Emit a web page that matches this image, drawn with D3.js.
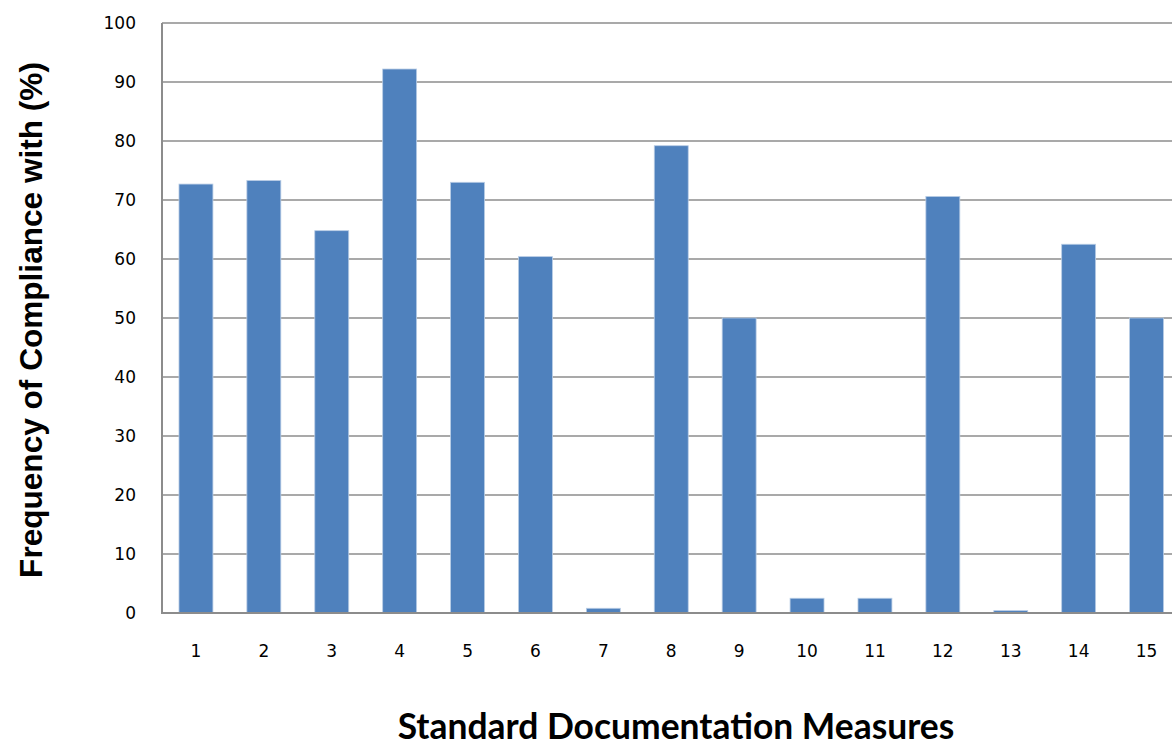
<!DOCTYPE html>
<html>
<head>
<meta charset="utf-8">
<script src="https://cdn.jsdelivr.net/npm/d3@7"></script>
<style>
  html, body { margin: 0; padding: 0; background: #ffffff; }
  svg { display: block; }
</style>
</head>
<body>
<svg id="chart" width="1172" height="745"></svg>
<script>
const categories = ["1","2","3","4","5","6","7","8","9","10","11","12","13","14","15"];
const values = [72.7, 73.3, 64.8, 92.2, 73.0, 60.4, 0.8, 79.2, 50.0, 2.5, 2.5, 70.6, 0.4, 62.5, 50.0];
const yTicks = [0, 10, 20, 30, 40, 50, 60, 70, 80, 90, 100];
const xTitle = "Standard Documentation Measures";
const yTitle = "Frequency of Compliance with (%)";

(function () {
const svg = d3.select("#chart");
const pLeft = 162, pTop = 23, pBottom = 613;
const step = 67.9;
const pRight = pLeft + step * categories.length;

const x = d3.scaleBand().domain(categories).range([pLeft, pRight]).paddingInner(0.5).paddingOuter(0.25);
const y = d3.scaleLinear().domain([0, 100]).range([pBottom, pTop]);

// gridlines
svg.append("g").selectAll("line").data(yTicks.filter(d => d > 0)).join("line")
  .attr("x1", pLeft).attr("x2", pRight)
  .attr("y1", d => y(d)).attr("y2", d => y(d))
  .attr("stroke", "#8c8c8c").attr("stroke-width", 1.6);

// bars
svg.append("g").selectAll("rect").data(values).join("rect")
  .attr("x", (d, i) => x(categories[i]))
  .attr("width", x.bandwidth())
  .attr("y", d => y(d))
  .attr("height", d => pBottom - y(d))
  .attr("fill", "#4f81bd")
  .attr("stroke", "#b9cde5").attr("stroke-width", 0.8);

// axes lines
svg.append("line").attr("x1", pLeft).attr("x2", pLeft).attr("y1", pTop).attr("y2", pBottom)
  .attr("stroke", "#8c8c8c").attr("stroke-width", 2);
svg.append("line").attr("x1", pLeft - 1).attr("x2", pRight).attr("y1", pBottom).attr("y2", pBottom)
  .attr("stroke", "#8c8c8c").attr("stroke-width", 2);

// y tick labels
svg.append("g").selectAll("text").data(yTicks).join("text")
  .attr("x", 136).attr("y", d => y(d))
  .attr("dy", "0.36em")
  .attr("text-anchor", "end")
  .attr("font-family", "DejaVu Sans, Verdana, sans-serif")
  .attr("font-size", 17)
  .attr("fill", "#000")
  .text(d => d);

// x tick labels
svg.append("g").selectAll("text").data(categories).join("text")
  .attr("x", d => x(d) + x.bandwidth() / 2).attr("y", 657)
  .attr("text-anchor", "middle")
  .attr("font-family", "DejaVu Sans, Verdana, sans-serif")
  .attr("font-size", 17)
  .attr("fill", "#000")
  .text(d => d);

// axis titles
const xt = svg.append("text")
  .attr("x", 676).attr("y", 739)
  .attr("text-anchor", "middle")
  .attr("font-family", "Lato, 'Open Sans', sans-serif")
  .attr("font-weight", "bold")
  .attr("font-size", 30)
  .attr("fill", "#000")
  .text(xTitle);
let w = xt.node().getComputedTextLength();
xt.attr("font-size", 30 * 557 / w);

const yt = svg.append("text")
  .attr("transform", "translate(42,320) rotate(-90)")
  .attr("text-anchor", "middle")
  .attr("font-family", "'Liberation Sans', Arial, sans-serif")
  .attr("font-weight", "bold")
  .attr("font-size", 28)
  .attr("fill", "#000")
  .text(yTitle);
w = yt.node().getComputedTextLength();
yt.attr("font-size", 28 * 516 / w);
})();
</script>
</body>
</html>
